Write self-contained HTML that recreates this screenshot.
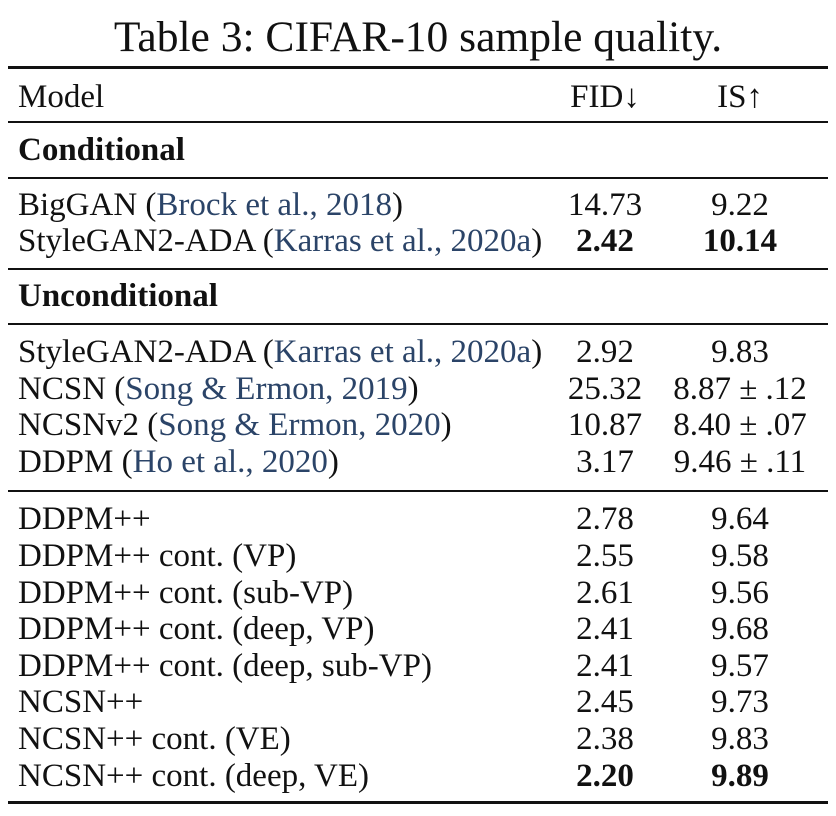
<!DOCTYPE html>
<html><head><meta charset="utf-8"><style>
body{margin:0;width:836px;height:816px;background:#fff;position:relative;overflow:hidden;font-family:"Liberation Serif","Times New Roman",serif;color:#111}
.t{position:absolute;font-size:33px;line-height:36px;white-space:nowrap}
.c{width:200px;text-align:center}
.rule{position:absolute;left:8px;width:820px;background:#111}
.cite{color:#2b4468}
b{font-weight:bold}
</style></head><body>
<div class="t" style="left:0;width:836px;text-align:center;top:12px;font-size:43.5px;line-height:50px">Table 3: CIFAR-10 sample quality.</div>
<div class="rule" style="top:66px;height:3px"></div>
<div class="rule" style="top:121px;height:1.5px"></div>
<div class="rule" style="top:177px;height:1.5px"></div>
<div class="rule" style="top:268px;height:1.5px"></div>
<div class="rule" style="top:323px;height:1.5px"></div>
<div class="rule" style="top:490px;height:1.5px"></div>
<div class="rule" style="top:801px;height:3px"></div>
<div id="rows"></div>
<script>
const labels=[
 ['Model','','', 'FID↓','IS↑',97],
 ['<b>Conditional</b>','','','','',150],
 ['BigGAN (','Brock et al., 2018',')','14.73','9.22',205],
 ['StyleGAN2-ADA (','Karras et al., 2020a',')','<b>2.42</b>','<b>10.14</b>',241],
 ['<b>Unconditional</b>','','','','',296],
 ['StyleGAN2-ADA (','Karras et al., 2020a',')','2.92','9.83',352],
 ['NCSN (','Song &amp; Ermon, 2019',')','25.32','8.87 ± .12',389],
 ['NCSNv2 (','Song &amp; Ermon, 2020',')','10.87','8.40 ± .07',425],
 ['DDPM (','Ho et al., 2020',')','3.17','9.46 ± .11',462],
 ['DDPM++','','','2.78','9.64',519],
 ['DDPM++ cont. (VP)','','','2.55','9.58',556],
 ['DDPM++ cont. (sub-VP)','','','2.61','9.56',593],
 ['DDPM++ cont. (deep, VP)','','','2.41','9.68',629],
 ['DDPM++ cont. (deep, sub-VP)','','','2.41','9.57',666],
 ['NCSN++','','','2.45','9.73',702],
 ['NCSN++ cont. (VE)','','','2.38','9.83',739],
 ['NCSN++ cont. (deep, VE)','','','<b>2.20</b>','<b>9.89</b>',776]
];
const root=document.getElementById('rows');
labels.forEach((r,i)=>{
 const y=r[5]-18;
 const m=document.createElement('div');
 m.className='t';m.style.left='18px';m.style.top=y+'px';
 m.innerHTML=r[0]+(r[1]?'<span class="cite">'+r[1]+'</span>':'')+r[2];
 
 
 root.appendChild(m);
 if(r[3]){const f=document.createElement('div');f.className='t c';f.style.left='505px';f.style.top=y+'px';f.innerHTML=r[3];
 
 
 root.appendChild(f);}
 if(r[4]){const s=document.createElement('div');s.className='t c';s.style.left='640px';s.style.top=y+'px';s.innerHTML=r[4];
 
 
 root.appendChild(s);}
});
</script>
</body></html>
